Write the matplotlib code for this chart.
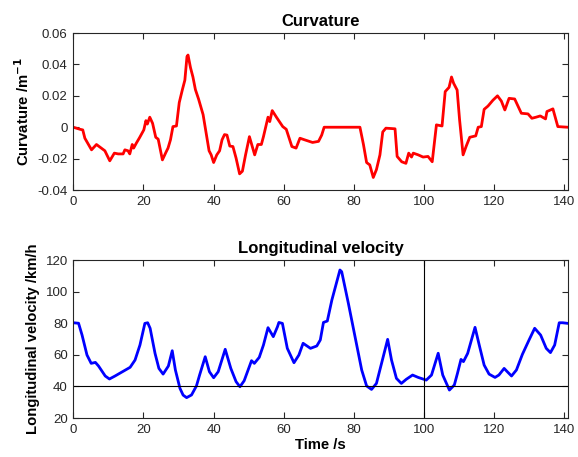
import matplotlib
matplotlib.use('Agg')
import matplotlib.pyplot as plt
import numpy as np

plt.rcParams['font.family'] = ['Liberation Sans', 'DejaVu Sans']

# curvature trace (time s, curvature 1/m)
curv_t = [0, 1.9, 2.7, 3.3, 5.2, 6.6, 8, 9, 10.4, 11.7, 12.8, 14.2, 14.7, 15.6, 16.1,
          16.8, 17.2, 18, 18.9, 20.1, 20.7, 21.1, 21.8, 22.6, 23.5, 24.2, 25.4, 26.4,
          27, 27.7, 28.4, 29.4, 30.2, 31.1, 31.8, 32.4, 32.7, 33.4, 34.1, 34.8, 35.7,
          37, 37.9, 38.7, 39.3, 40, 40.9, 41.7, 42.4, 43.1, 43.8, 44.6, 45.5, 46.4,
          47.4, 48.2, 49.1, 50.2, 51.7, 52.6, 53.6, 54.2, 55.5, 56, 56.7, 57.9, 59.7,
          60.7, 62.3, 63.5, 64.6, 65.9, 67.3, 68.2, 69.9, 70.8, 71.5, 81.7, 82.7,
          83.6, 84.5, 85.5, 86.4, 87.4, 88.2, 89.1, 91.7, 92.3, 93.6, 94.8, 95.6,
          96.4, 96.9, 98.3, 99.7, 101.1, 102.3, 103.5, 105.1, 106, 107.1, 107.8,
          108.4, 109.4, 110.1, 111.1, 112, 113, 114.7, 115.4, 116.3, 117.1, 118.2,
          119.6, 120.9, 122, 123, 124.2, 125.8, 127.7, 129.6, 130.7, 131.9, 133.1,
          134.6, 135, 136.7, 138.1, 141]
curv_k = [0, -0.0013, -0.0017, -0.007, -0.0144, -0.011, -0.0133, -0.015, -0.0214,
          -0.0165, -0.017, -0.017, -0.0144, -0.015, -0.017, -0.011, -0.0133, -0.010,
          -0.0066, -0.0017, 0.0042, 0.002, 0.0064, 0.0025, -0.0064, -0.0076, -0.0208,
          -0.016, -0.0133, -0.008, 0.0004, 0.0008, 0.0157, 0.024, 0.030, 0.045, 0.046,
          0.038, 0.032, 0.024, 0.018, 0.008, -0.004, -0.015, -0.0176, -0.0225, -0.0176,
          -0.015, -0.008, -0.0047, -0.005, -0.012, -0.0123, -0.0197, -0.0297, -0.028,
          -0.0176, -0.006, -0.0176, -0.011, -0.011, -0.006, 0.0064, 0.0036, 0.0106,
          0.0064, 0.0004, -0.0013, -0.0123, -0.0133, -0.007, -0.008, -0.009, -0.0097,
          -0.009, -0.005, 0, 0, -0.011, -0.0225, -0.024, -0.032, -0.027, -0.0176,
          -0.003, -0.0006, -0.001, -0.0186, -0.022, -0.023, -0.0165, -0.019, -0.0165,
          -0.0176, -0.019, -0.0186, -0.022, 0.0015, 0.0008, 0.0227, 0.0254, 0.032,
          0.028, 0.0237, 0.0047, -0.0176, -0.012, -0.0064, -0.0055, 0, 0.0004, 0.0114,
          0.0135, 0.0172, 0.02, 0.0167, 0.011, 0.0184, 0.018, 0.0089, 0.0085, 0.0057,
          0.0064, 0.0072, 0.0053, 0.01, 0.0117, 0.0004, 0]

# longitudinal velocity trace (time s, km/h)
vel_t = [0, 1.5, 2.5, 3.9, 5.1, 6.3, 7.2, 9.1, 10.3, 11.9, 16.2, 17.6, 19.0, 20.4,
         21.2, 21.9, 23.3, 24.4, 25.6, 27.1, 28.2, 29.1, 30.4, 31.3, 32.3, 33.7,
         35.1, 36.0, 37.6, 38.8, 40.0, 41.3, 43.3, 44.9, 46.4, 47.5, 48.7, 50.8,
         51.6, 53.0, 54.2, 55.5, 57.0, 58.2, 58.6, 59.6, 61.0, 62.9, 64.3, 65.5,
         67.6, 69.4, 70.4, 71.3, 72.4, 73.7, 76.0, 76.5, 78.4, 80.3, 82.2, 83.6,
         85.0, 86.4, 88.1, 89.6, 90.7, 92.1, 93.5, 94.9, 96.7, 98.3, 100.6, 102.1,
         104.0, 105.3, 107.2, 108.6, 109.5, 110.5, 111.2, 112.4, 114.5, 115.7, 117.1,
         118.5, 120.2, 121.3, 122.8, 123.7, 124.9, 126.3, 128.0, 129.9, 131.5, 133.2,
         134.8, 136.0, 137.2, 138.5, 139.5, 141]
vel_v = [80.3, 80, 72.5, 59.9, 54.6, 55.2, 52.9, 46.6, 44.7, 46.6, 52.1, 56.7, 66.2,
         79.9, 80.3, 76.8, 60.9, 51.4, 47.8, 52.9, 62.6, 50.4, 38.8, 34.5, 32.9, 34.6,
         40.3, 47.2, 58.8, 49.3, 45.5, 49.3, 63.5, 51.4, 43, 39.8, 43.6, 56.3, 54.6,
         58.4, 66.2, 77.2, 71.5, 77.8, 80.5, 79.9, 64.1, 55, 59.9, 67.3, 64.1, 65.6,
         69.4, 80.5, 81.4, 94.7, 113.7, 112.6, 92.6, 71.5, 50.4, 40.3, 38.1, 41.9,
         56.7, 69.8, 56.7, 45.1, 41.9, 44.5, 47.2, 45.7, 44, 47.2, 61.0, 47.2, 37.7,
         40.9, 48.3, 57.1, 55.7, 60.9, 77.4, 66.2, 53.5, 47.8, 45.7, 47.2, 51.4, 49.3,
         46.6, 50.4, 60.3, 69.4, 76.8, 72.5, 64.1, 61.4, 66.2, 80.3, 80.3, 79.9]

ref_speed = 40
ref_time = 100

curv_ticks = [-0.04, -0.02, 0, 0.02, 0.04, 0.06]
curv_ticklabels = ['-0.04', '-0.02', '0', '0.02', '0.04', '0.06']
vel_ticks = [20, 40, 60, 80, 100, 120]
time_ticks = [0, 20, 40, 60, 80, 100, 120, 140]

axis_col = '#262626'


def style_axes(ax):
    ax.tick_params(direction='in', length=4, width=0.8, colors=axis_col,
                   labelsize=9.5, top=True, right=True, pad=4)
    for s in ax.spines.values():
        s.set_color(axis_col)
        s.set_linewidth(0.8)


fig = plt.figure(figsize=(5.78, 4.57), dpi=100)
ax1 = fig.add_axes([0.1268, 0.5842, 0.8559, 0.3435])
ax2 = fig.add_axes([0.1268, 0.0853, 0.8559, 0.3457])

ax1.plot(curv_t, curv_k, color='red', linewidth=2, solid_joinstyle='round')
ax1.set_xlim(0, 141)
ax1.set_ylim(-0.04, 0.06)
ax1.set_yticks(curv_ticks)
ax1.set_yticklabels(curv_ticklabels)
ax1.set_xticks(time_ticks)
ax1.set_title('Curvature', fontsize=12, fontweight='bold', pad=5)
ax1.set_ylabel('Curvature /m$^{\\mathbf{-1}}$', fontsize=10.7, fontweight='bold', labelpad=4)
style_axes(ax1)

ax2.plot(vel_t, vel_v, color='blue', linewidth=2, solid_joinstyle='round')
ax2.axhline(ref_speed, color='black', linewidth=0.8)
ax2.axvline(ref_time, color='black', linewidth=0.8)
ax2.set_xlim(0, 141)
ax2.set_ylim(20, 120)
ax2.set_yticks(vel_ticks)
ax2.set_xticks(time_ticks)
ax2.set_title('Longitudinal velocity', fontsize=12, fontweight='bold', pad=5)
ax2.set_ylabel('Longitudinal velocity /km/h', fontsize=10.7, fontweight='bold', labelpad=4)
ax2.set_xlabel('Time /s', fontsize=10.7, fontweight='bold', labelpad=2)
style_axes(ax2)

fig.savefig('out.png', dpi=100)
